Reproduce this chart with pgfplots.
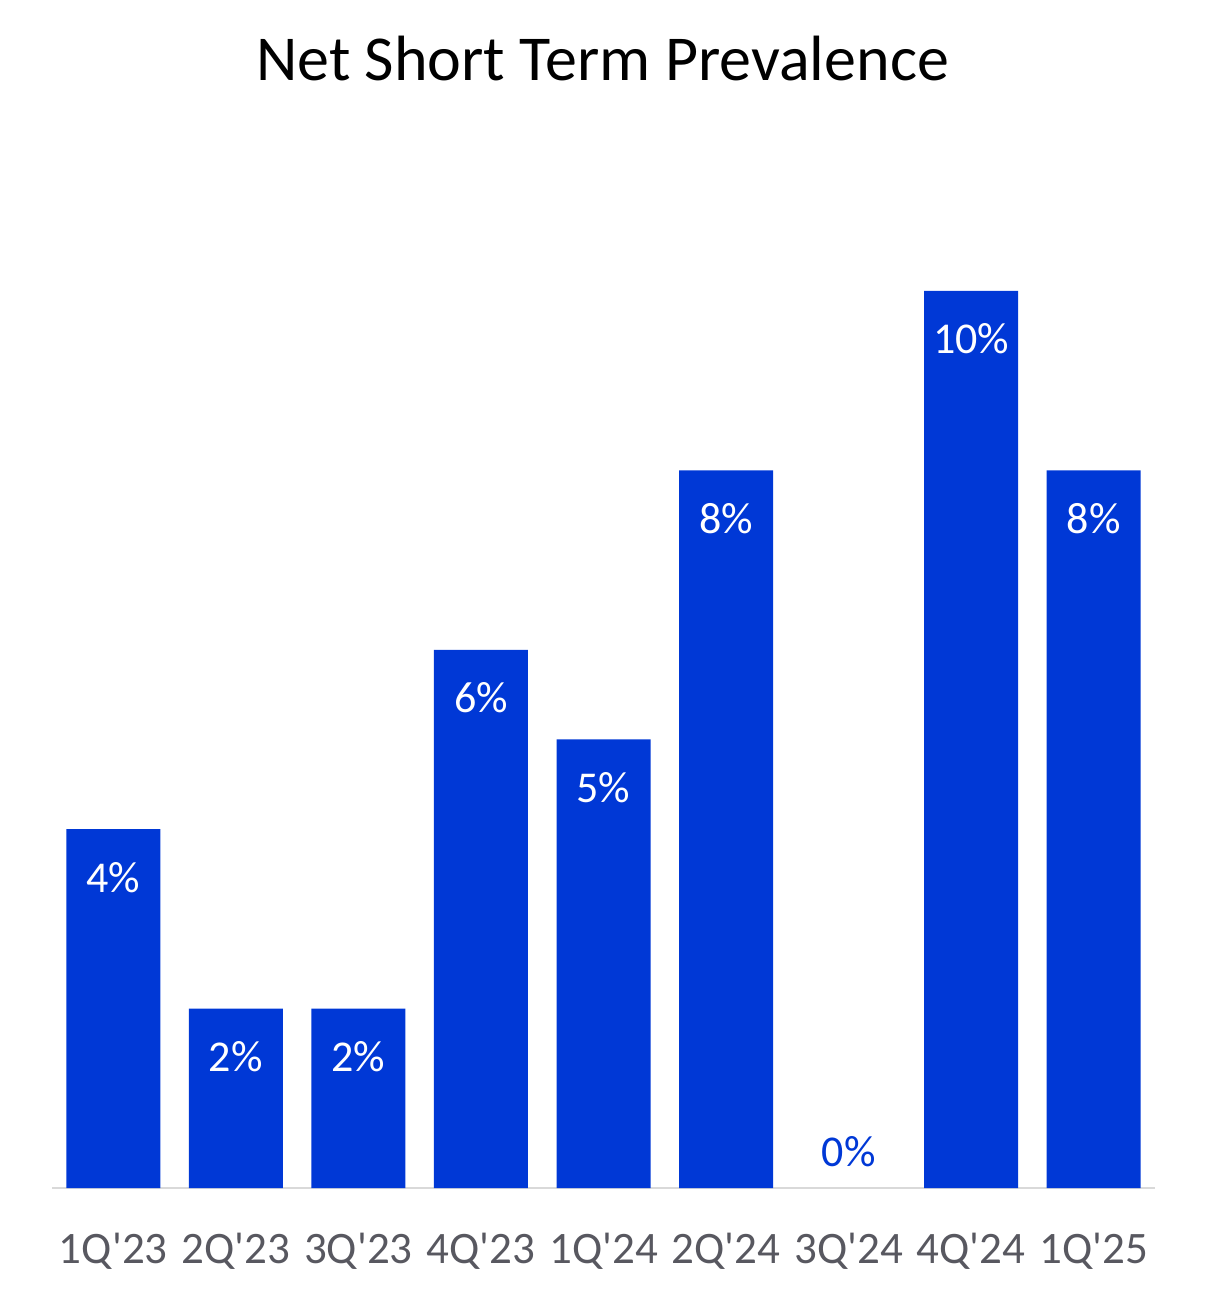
\documentclass[border=0pt]{standalone}
\usepackage{pgfplots}
\pgfplotsset{compat=1.18}
\usepackage{fontspec}
\setmainfont{Carlito}
\definecolor{barblue}{RGB}{0,56,214}
\definecolor{ticktext}{RGB}{88,88,96}
\definecolor{baseline}{RGB}{217,217,217}
\newcommand{\q}{\textquotesingle}
\begin{document}
\begin{tikzpicture}
\useasboundingbox (-26pt,-59pt) rectangle (576.5pt,594pt);
\begin{axis}[
    at={(0,0)}, anchor=south west,
    scale only axis,
    width=551.5pt, height=448.5pt,
    xmin=-0.5, xmax=8.5,
    ymin=0, ymax=10,
    axis x line=bottom, axis y line=none,
    axis line style={draw=baseline, line width=1pt, -},
    xtick={0,...,8},
    xticklabels={1Q\q23,2Q\q23,3Q\q23,4Q\q23,1Q\q24,2Q\q24,3Q\q24,4Q\q24,1Q\q25},
    major tick length=0pt,
    xticklabel style={font=\fontsize{22.5}{26}\selectfont, text=ticktext, anchor=base, yshift=-37.5pt},
    /pgf/number format/assume math mode=true,
    ybar, bar width=47pt, bar shift=0pt,
    clip=false,
]
\addplot[fill=barblue, draw=none,
    nodes near coords={\pgfmathprintnumber{\pgfplotspointmeta}\%},
    every node near coord/.append style={font=\fontsize{22}{26}\selectfont, text=white, anchor=base, yshift=-31.5pt}]
    coordinates {(0,4) (1,2) (2,2) (3,6) (4,5) (5,8) (7,10) (8,8)};
\addplot[fill=none, draw=none,
    nodes near coords={\pgfmathprintnumber{\pgfplotspointmeta}\%},
    every node near coord/.append style={font=\fontsize{22}{26}\selectfont, text=barblue, anchor=base, yshift=11pt}]
    coordinates {(6,0)};
\end{axis}
\node[anchor=base, font=\fontsize{32}{37}\selectfont] at (275.25pt,553.5pt) {Net Short Term Prevalence};
\end{tikzpicture}
\end{document}
